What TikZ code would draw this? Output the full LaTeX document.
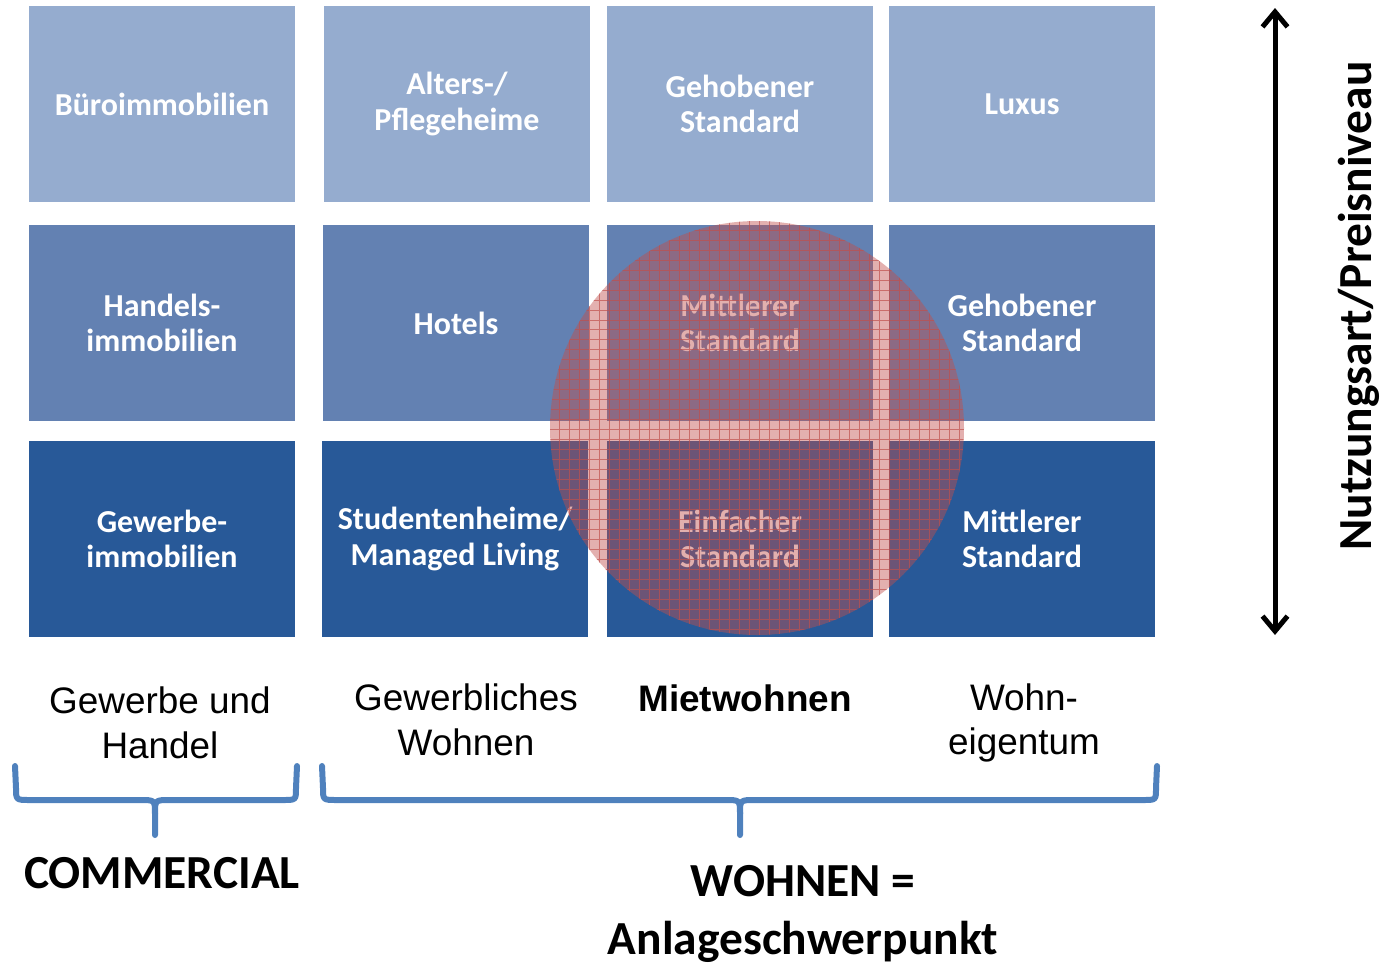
\documentclass[tikz,border=0pt]{standalone}
\usepackage{fontspec}
\setmainfont{Carlito}
\newfontfamily\arialfont{Liberation Sans}
\usepackage{tikz}
\usetikzlibrary{arrows.meta}

\definecolor{rowA}{RGB}{149,172,207}
\definecolor{rowB}{RGB}{99,129,178}
\definecolor{rowC}{RGB}{40,89,152}
\definecolor{bracecol}{RGB}{79,129,189}
\definecolor{spotred}{RGB}{192,80,77}

\tikzset{
  cell/.style={minimum width=5.34cm, minimum height=3.92cm, inner sep=0pt,
    align=center, text=white, font=\fontsize{18.2}{20}\selectfont\bfseries},
  seglabel/.style={align=center, font=\arialfont\fontsize{21}{25.5}\selectfont},
  bigbold/.style={align=center, inner sep=0pt, font=\fontsize{27}{33}\selectfont\bfseries},
  brace/.style={draw=bracecol, line width=0.12cm, line cap=round, line join=round},
}

\begin{document}
\begin{tikzpicture}[x=0.02cm, y=-0.02cm]
\useasboundingbox (0,0) rectangle (1382,964);

% top row
\node[cell, fill=rowA] (bueros) at (162,104) {B\"uroimmobilien};
\node[cell, fill=rowA] (alters) at (457,104) {Alters-/\\Pflegeheime};
\node[cell, fill=rowA] (mietgeh) at (740,104) {Gehobener\\Standard};
\node[cell, fill=rowA] (luxus) at (1022,104) {Luxus};

% middle row
\node[cell, fill=rowB] (handel) at (162,323) {Handels-\\immobilien};
\node[cell, fill=rowB] (hotels) at (456,323) {Hotels};
\node[cell, fill=rowB] (mietmit) at (740,323) {Mittlerer\\Standard};
\node[cell, fill=rowB] (eigengeh) at (1022,323) {Gehobener\\Standard};

% bottom row
\node[cell, fill=rowC] (gewerbe) at (162,539) {Gewerbe-\\immobilien};
\node[cell, fill=rowC] (studis) at (455,539) {Studentenheime/\\Managed Living};
\node[cell, fill=rowC] (mieteinf) at (740,539) {Einfacher\\Standard};
\node[cell, fill=rowC] (eigenmit) at (1022,539) {Mittlerer\\Standard};

% focus circle
\coordinate (focus) at (757,428);
\fill[spotred, opacity=0.45] (focus) circle (207);
\begin{scope}
  \clip (focus) circle (207);
  \draw[spotred, opacity=0.7, line width=0.5pt, step=0.2cm] (540,210) grid (980,650);
\end{scope}

% segment labels
\node[seglabel] (lblgew) at (160,723) {Gewerbe und\\Handel};
\node[seglabel] (lblgwo) at (466,720) {Gewerbliches\\Wohnen};
\node[seglabel, font=\arialfont\fontsize{21}{25.5}\selectfont\bfseries] (lblmiet) at (745,698) {Mietwohnen};
\node[seglabel] (lbleig) at (1024,723) {Wohn-\\eigentum};

% braces
\draw[brace] (15,766) -- (16,788) .. controls (16,800) .. (30,800) -- (140,800)
  .. controls (155,800) .. (155,814) -- (155,835);
\draw[brace] (155,814) .. controls (155,800) .. (170,800) -- (283,800)
  .. controls (296,800) .. (296,788) -- (297,766);
\draw[brace] (322,766) -- (323,788) .. controls (323,800) .. (337,800) -- (725,800)
  .. controls (740,800) .. (740,814) -- (740,835);
\draw[brace] (740,814) .. controls (740,800) .. (755,800) -- (1143,800)
  .. controls (1156,800) .. (1156,788) -- (1157,766);

\node[bigbold] (commercial) at (162,873) {COMMERCIAL};
\node[bigbold] (wohnen) at (803,914) {WOHNEN =\\Anlageschwerpunkt};

% price axis
\coordinate (axtop) at (1275,8);
\coordinate (axbot) at (1275,635);
\draw[line width=0.1cm, {Straight Barb[length=0.3cm,width=0.5cm]}-{Straight Barb[length=0.3cm,width=0.5cm]}] (axbot) -- (axtop);
\node[bigbold, rotate=90] (axlabel) at (1359,306) {Nutzungsart/Preisniveau};

\end{tikzpicture}
\end{document}
